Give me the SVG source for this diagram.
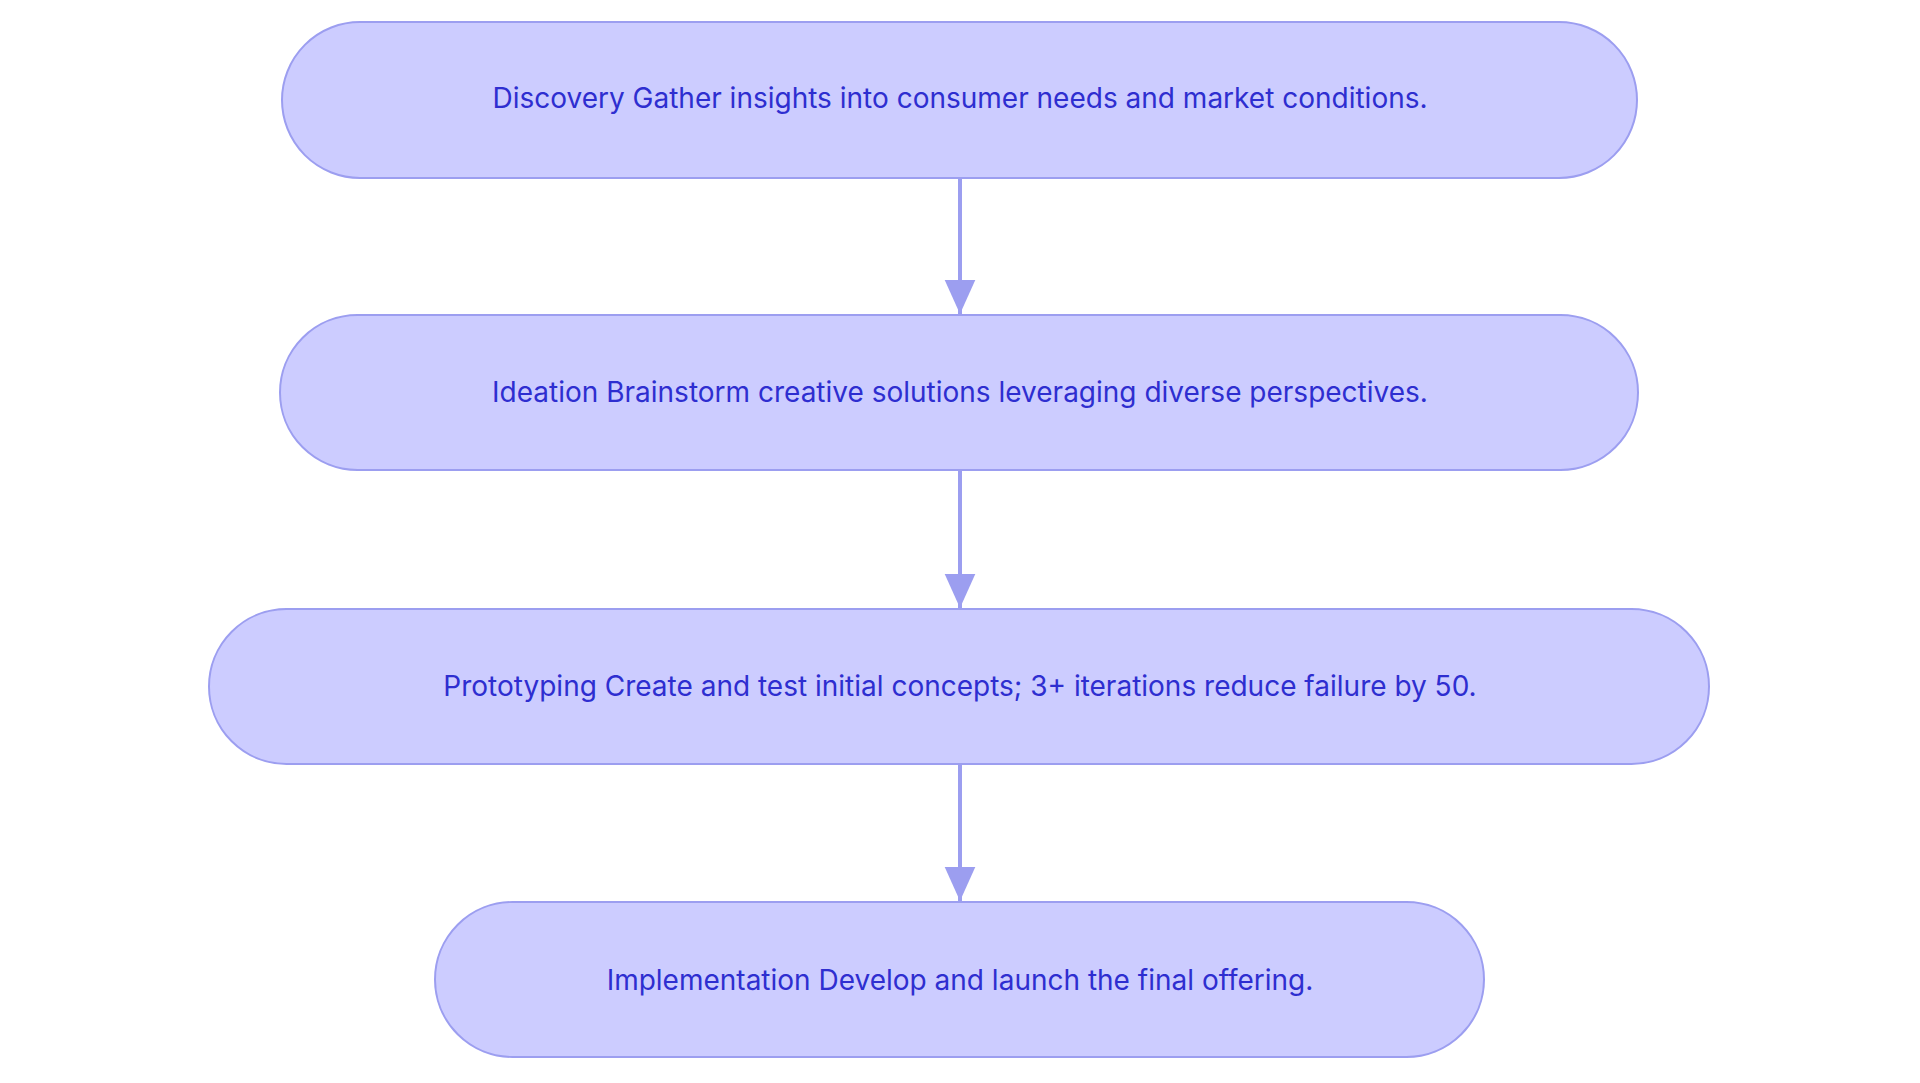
<svg xmlns="http://www.w3.org/2000/svg" width="1920" height="1083" viewBox="0 0 1920 1083">
<style>
.n{fill:#ccccff;stroke:#9c9ef0;stroke-width:2}
.t{font-family:Inter,"Liberation Sans",sans-serif;font-size:28px;fill:#2e2ed0;text-anchor:middle;dominant-baseline:central}
.e{stroke:#9c9ef0;stroke-width:4;fill:none}
</style>
<defs><marker id="a" markerWidth="12" markerHeight="12" refX="10" refY="6" orient="auto" markerUnits="userSpaceOnUse" viewBox="0 0 12 12"><path d="M0,0L12,6L0,12z" fill="#9c9ef0"/></marker>
<marker id="b" viewBox="0 0 10 10" refX="10" refY="5" markerWidth="34" markerHeight="34" markerUnits="userSpaceOnUse" orient="auto"><path d="M0,0.5L10,5L0,9.5z" fill="#9c9ef0"/></marker></defs>
<g id="edges">
<line class="e" x1="960" y1="178" x2="960" y2="314" marker-end="url(#b)"/>
<line class="e" x1="960" y1="470" x2="960" y2="608" marker-end="url(#b)"/>
<line class="e" x1="960" y1="764" x2="960" y2="901" marker-end="url(#b)"/>
</g>
<g id="n1"><rect class="n" x="282" y="22" width="1355" height="156" rx="78"/><text class="t" x="960" y="98">Discovery Gather insights into consumer needs and market conditions.</text></g>
<g id="n2"><rect class="n" x="280" y="315" width="1358" height="155" rx="77.5"/><text class="t" x="960" y="392">Ideation Brainstorm creative solutions leveraging diverse perspectives.</text></g>
<g id="n3"><rect class="n" x="209" y="609" width="1500" height="155" rx="77.5"/><text class="t" x="960" y="686">Prototyping Create and test initial concepts; 3+ iterations reduce failure by 50.</text></g>
<g id="n4"><rect class="n" x="435" y="902" width="1049" height="155" rx="77.5"/><text class="t" x="960" y="980">Implementation Develop and launch the final offering.</text></g>
</svg>
